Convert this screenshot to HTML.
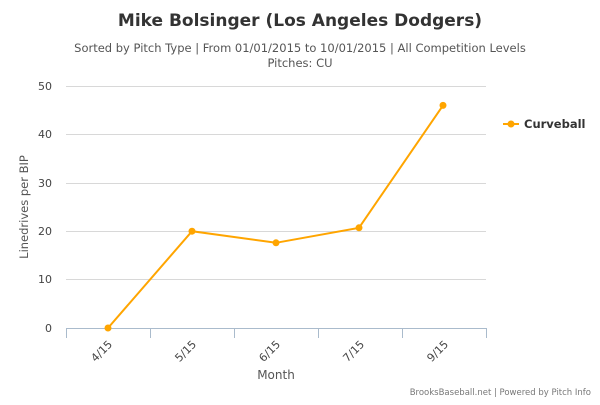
<!DOCTYPE html><html><head><style>body{margin:0;background:#fff}svg text{font-family:"DejaVu Sans",sans-serif}</style></head><body>
<svg width="600" height="400" xmlns="http://www.w3.org/2000/svg">
<text x="300" y="26" text-anchor="middle" font-size="17" font-weight="bold" fill="#333">Mike Bolsinger (Los Angeles Dodgers)</text>
<text x="300" y="52" text-anchor="middle" font-size="11.5" fill="#555">Sorted by Pitch Type | From 01/01/2015 to 10/01/2015 | All Competition Levels</text>
<text x="300" y="67" text-anchor="middle" font-size="11.5" fill="#555">Pitches: CU</text>
<g stroke="#d8d8d8" stroke-width="1">
<line x1="66" x2="486" y1="86.5" y2="86.5"/><line x1="66" x2="486" y1="134.5" y2="134.5"/><line x1="66" x2="486" y1="183.5" y2="183.5"/><line x1="66" x2="486" y1="231.5" y2="231.5"/><line x1="66" x2="486" y1="279.5" y2="279.5"/></g>
<g stroke="#aabbcc" stroke-width="1"><line x1="66" x2="486" y1="328.5" y2="328.5"/>
<line x1="66.5" x2="66.5" y1="328" y2="338"/><line x1="150.5" x2="150.5" y1="328" y2="338"/><line x1="234.5" x2="234.5" y1="328" y2="338"/><line x1="318.5" x2="318.5" y1="328" y2="338"/><line x1="402.5" x2="402.5" y1="328" y2="338"/><line x1="486.5" x2="486.5" y1="328" y2="338"/></g>
<g font-size="11" fill="#444" text-anchor="end"><text x="52" y="90">50</text><text x="52" y="138">40</text><text x="52" y="187">30</text><text x="52" y="235">20</text><text x="52" y="283">10</text><text x="52" y="332">0</text></g>
<text transform="translate(28,207) rotate(-90)" text-anchor="middle" font-size="11.5" fill="#555">Linedrives per BIP</text>
<g font-size="11" fill="#444" text-anchor="end">
<text transform="translate(113,345) rotate(-45)">4/15</text><text transform="translate(197,345) rotate(-45)">5/15</text><text transform="translate(281,345) rotate(-45)">6/15</text><text transform="translate(365,345) rotate(-45)">7/15</text><text transform="translate(449,345) rotate(-45)">9/15</text></g>
<text x="276" y="379" text-anchor="middle" font-size="12" fill="#555">Month</text>
<polyline fill="none" stroke="#ffa500" stroke-width="2" points="108,328 192,231.2 276,242.8 359,227.8 443,105.4"/>
<g fill="#ffa500"><circle cx="108" cy="328" r="3.5"/><circle cx="192" cy="231.2" r="3.5"/><circle cx="276" cy="242.8" r="3.5"/><circle cx="359" cy="227.8" r="3.5"/><circle cx="443" cy="105.4" r="3.5"/></g>
<line x1="503" x2="519" y1="124" y2="124" stroke="#ffa500" stroke-width="2"/><circle cx="511" cy="124" r="3.5" fill="#ffa500"/>
<text x="524" y="128" font-size="11.5" font-weight="bold" fill="#333">Curveball</text>
<text x="591" y="395" text-anchor="end" font-size="8.5" fill="#777">BrooksBaseball.net | Powered by Pitch Info</text>
</svg></body></html>
